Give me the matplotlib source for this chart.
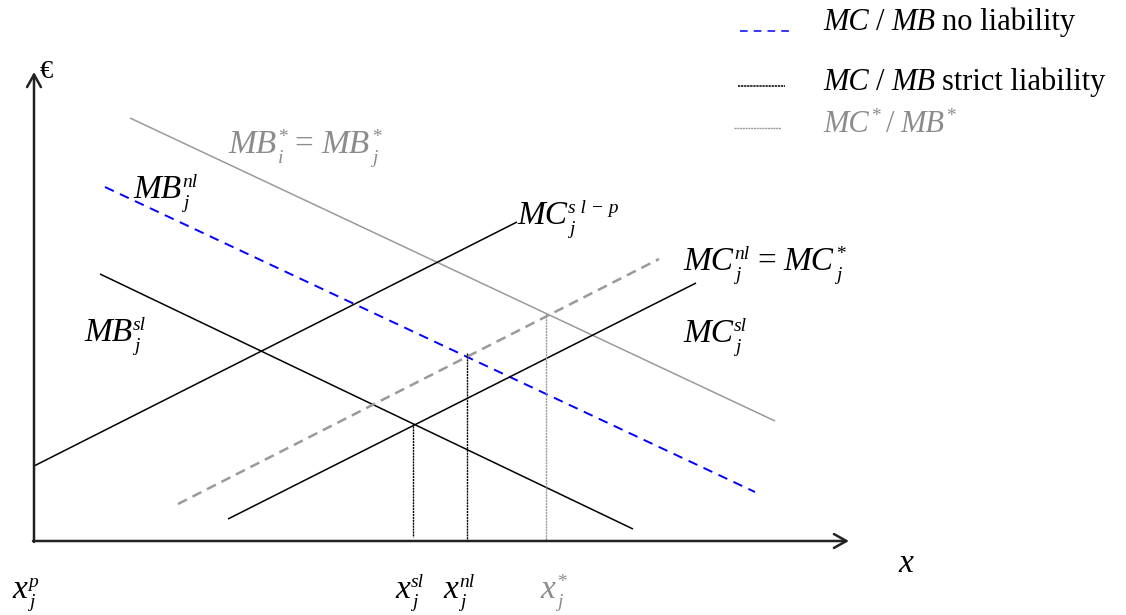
import matplotlib
matplotlib.use("Agg")
import matplotlib.pyplot as plt

plt.rcParams['font.family'] = ['Liberation Serif', 'DejaVu Serif']

# line end points, picture units (x right, y down)
mb_star = [(130, 118), (775, 421)]
mb_nl = [(105, 187), (755, 492)]
mb_sl = [(100, 274), (633, 529)]
mc_slp = [(34, 466), (517, 222)]
mc_nl = [(178, 504), (659, 259)]
mc_sl = [(228, 519), (696, 283)]
x_sl = [(413, 423), (413, 537)]
x_nl = [(467, 353), (467, 540)]
x_st = [(546, 313), (546, 541)]
leg_nl = [(740, 31), (790, 31)]
leg_sl = [(738, 86), (785, 86)]
leg_st = [(734, 128), (781, 128)]

legend_texts = ['no liability', 'strict liability']

GRAY = '#8c8c8c'
LGRAY = '#9a9a9a'

fig = plt.figure(figsize=(11.26, 6.15), dpi=100)
ax = fig.add_axes([0, 0, 1, 1])
ax.set_xlim(0, 1126)
ax.set_ylim(615, 0)
ax.axis('off')
renderer = fig.canvas.get_renderer()


def seg(p, **kw):
    ax.plot([p[0][0], p[1][0]], [p[0][1], p[1][1]], solid_capstyle='butt', **kw)


def label(x, y, parts, color='black', size=24, ssize=14, dsub=10):
    # parts: (text, sub, sup, gap before, italic); y is the baseline
    for text, sub, sup, gap, italic in parts:
        x += gap
        t = ax.text(x, y, text, fontsize=size, color=color, va='baseline',
                    ha='left', style='italic' if italic else 'normal')
        x += t.get_window_extent(renderer).width
        w = 0
        if sup:
            t = ax.text(x + 1, y - 11, sup, fontsize=ssize, color=color,
                        va='baseline', ha='left', style='italic')
            w = max(w, t.get_window_extent(renderer).width + 1)
        if sub:
            t = ax.text(x + 2, y + dsub, sub, fontsize=ssize, color=color,
                        va='baseline', ha='left', style='italic')
            w = max(w, t.get_window_extent(renderer).width + 2)
        x += w


seg(mb_star, color=LGRAY, lw=1.1)
seg(mb_nl, color='#0000ff', lw=1.4, ls=(0, (5, 3.5)))
seg(mb_sl, color='black', lw=1.1)
seg(mc_slp, color='black', lw=1.1)
seg(mc_nl, color=LGRAY, lw=1.8, ls=(0, (4, 2.5)))
seg(mc_sl, color='black', lw=1.1)
seg(x_sl, color='black', lw=1.0, ls=(0, (1.5, 0.6)))
seg(x_nl, color='black', lw=1.0, ls=(0, (1.5, 0.6)))
seg(x_st, color=LGRAY, lw=1.0, ls=(0, (1.5, 0.6)))
seg(leg_nl, color='#0000ff', lw=1.1, ls=(0, (5, 4)))
seg(leg_sl, color='black', lw=1.1, ls=(0, (1.5, 0.5)))
seg(leg_st, color=LGRAY, lw=1.0, ls=(0, (1.5, 0.5)))

# axes arrows
arrow = dict(arrowstyle='->,head_length=0.45,head_width=0.25', lw=1.8,
             color='#222222', mutation_scale=20, shrinkA=0, shrinkB=0)
ax.annotate('', xy=(34, 72), xytext=(34, 542), arrowprops=arrow)
ax.annotate('', xy=(849, 541), xytext=(33, 541), arrowprops=arrow)
ax.text(40, 78, '€', fontsize=19, va='baseline', ha='left')
label(898, 572, [('x', None, None, 0, True)])

label(228, 153, [('MB', 'i', '*', 0, True), ('=', None, None, 8, False),
                 ('MB', 'j', '*', 8, True)], color=GRAY)
label(133, 198, [('MB', 'j', 'nl', 0, True)])
label(517, 224, [('MC', 'j', 's l \u2212 p', 0, True)])
label(683, 270, [('MC', 'j', 'nl', 0, True), ('=', None, None, 8, False),
                 ('MC', 'j', '*', 8, True)])
label(84, 341, [('MB', 'j', 'sl', 0, True)])
label(683, 342, [('MC', 'j', 'sl', 0, True)])

label(12, 598, [('x', 'j', 'p', 0, True)], dsub=9)
label(395, 598, [('x', 'j', 'sl', 0, True)], dsub=9)
label(443, 598, [('x', 'j', 'nl', 0, True)], dsub=9)
label(540, 598, [('x', 'j', '*', 0, True)], color=GRAY, dsub=9)

lfs = 22
for yb, txt in zip([30, 90], legend_texts):
    label(823, yb, [('MC', None, None, 0, True), ('/', None, None, 7, False),
                    ('MB', None, None, 7, True), (txt, None, None, 7, False)], size=lfs)
label(823, 132, [('MC', None, '*', 0, True), ('/', None, None, 6, False),
                 ('MB', None, '*', 6, True)], color=GRAY, size=lfs)

fig.savefig('out.png', dpi=100)
